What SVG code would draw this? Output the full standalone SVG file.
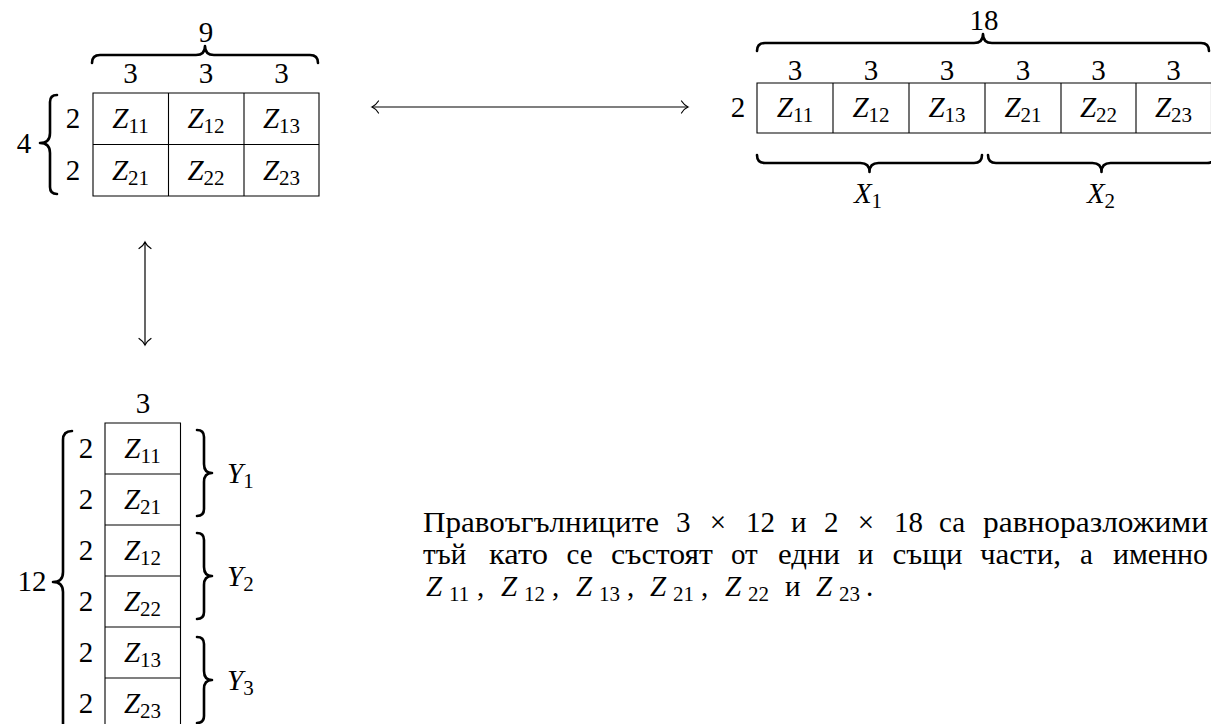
<svg xmlns="http://www.w3.org/2000/svg" width="1211" height="724" viewBox="0 0 1211 724">
<defs>
<marker id="tip" markerUnits="userSpaceOnUse" markerWidth="16" markerHeight="16" refX="12" refY="8" orient="auto-start-reverse" overflow="visible">
<path d="M5.5,2 C7.5,5 10,7.2 12,8 C10,8.8 7.5,11 5.5,14" fill="none" stroke="#000" stroke-width="1.2" stroke-linecap="round"/>
</marker>
</defs>
<style>
text { font-family: "Liberation Serif", "Times New Roman", serif; font-size: 29px; fill: #000; }
.m { text-anchor: middle; }
.i { font-style: italic; }
.s { font-size: 21px; }
.cell { fill: none; stroke: #000; stroke-width: 1.1; }
.brace { fill: none; stroke: #000; stroke-width: 2.6; stroke-linecap: round; stroke-linejoin: round; }
.arrow { fill: none; stroke: #000; stroke-width: 1.2; }
</style>
<rect width="1211" height="724" fill="#fff"/>

<g id="node-rect-4x9">
<path class="cell" d="M93,93 H319 V196 H93 Z M93,144.5 H319 M168.5,93 V196 M244,93 V196"/>
<path class="brace" d="M92,63 Q92,55 100,55 H196 Q205,55 205,46 Q205,55 214,55 H310 Q318,55 318,63"/>
<path class="brace" d="M57,95 Q50,95 50,102 V133 Q50,143 40,143 Q50,143 50,153 V187 Q50,194 57,194"/>
<text class="m" x="206" y="42">9</text>
<text class="m" x="130.5" y="83">3</text>
<text class="m" x="206" y="83">3</text>
<text class="m" x="281.5" y="83">3</text>
<text class="m" x="24" y="153">4</text>
<text class="m" x="73" y="128">2</text>
<text class="m" x="73" y="180">2</text>
<text class="m" x="130.5" y="128"><tspan class="i">Z</tspan><tspan class="s" dy="5">11</tspan></text>
<text class="m" x="206" y="128"><tspan class="i">Z</tspan><tspan class="s" dy="5">12</tspan></text>
<text class="m" x="281.5" y="128"><tspan class="i">Z</tspan><tspan class="s" dy="5">13</tspan></text>
<text class="m" x="130.5" y="180"><tspan class="i">Z</tspan><tspan class="s" dy="5">21</tspan></text>
<text class="m" x="206" y="180"><tspan class="i">Z</tspan><tspan class="s" dy="5">22</tspan></text>
<text class="m" x="281.5" y="180"><tspan class="i">Z</tspan><tspan class="s" dy="5">23</tspan></text>
</g>

<g id="node-rect-2x18">
<path class="cell" d="M757,83 H1211.5 V133 H757 Z M833,83 V133 M909,83 V133 M985,83 V133 M1061,83 V133 M1136,83 V133"/>
<path class="brace" d="M757,51 Q757,43 765,43 H974 Q983,43 983,34 Q983,43 992,43 H1201 Q1209,43 1209,51"/>
<path class="brace" d="M757,155 Q757,163 765,163 H860.5 Q869.5,163 869.5,172 Q869.5,163 878.5,163 H974 Q982,163 982,155"/>
<path class="brace" d="M988,155 Q988,163 996,163 H1092.5 Q1101.5,163 1101.5,172 Q1101.5,163 1110.5,163 H1207 Q1215,163 1215,155"/>
<text class="m" x="984" y="30">18</text>
<text class="m" x="795" y="80">3</text>
<text class="m" x="871" y="80">3</text>
<text class="m" x="947" y="80">3</text>
<text class="m" x="1023" y="80">3</text>
<text class="m" x="1098.5" y="80">3</text>
<text class="m" x="1173.5" y="80">3</text>
<text class="m" x="738" y="117">2</text>
<text class="m" x="795" y="117"><tspan class="i">Z</tspan><tspan class="s" dy="5">11</tspan></text>
<text class="m" x="871" y="117"><tspan class="i">Z</tspan><tspan class="s" dy="5">12</tspan></text>
<text class="m" x="947" y="117"><tspan class="i">Z</tspan><tspan class="s" dy="5">13</tspan></text>
<text class="m" x="1023" y="117"><tspan class="i">Z</tspan><tspan class="s" dy="5">21</tspan></text>
<text class="m" x="1098.5" y="117"><tspan class="i">Z</tspan><tspan class="s" dy="5">22</tspan></text>
<text class="m" x="1173.5" y="117"><tspan class="i">Z</tspan><tspan class="s" dy="5">23</tspan></text>
<text class="m" x="868" y="203"><tspan class="i">X</tspan><tspan class="s" dy="5">1</tspan></text>
<text class="m" x="1101" y="203"><tspan class="i">X</tspan><tspan class="s" dy="5">2</tspan></text>
</g>

<g id="node-rect-12x3">
<path class="cell" d="M105,423 H180.5 V729 H105 Z M105,474 H180.5 M105,525 H180.5 M105,576 H180.5 M105,627 H180.5 M105,678 H180.5"/>
<path class="brace" d="M72,431 Q63,431 63,440 V572 Q63,582 53,582 Q63,582 63,592 V724 Q63,733 72,733"/>
<path class="brace" d="M197,430 Q204,430 204,437 V464 Q204,473 212,473 Q204,473 204,482 V509 Q204,516 197,516"/>
<path class="brace" d="M197,533 Q204,533 204,540 V567 Q204,576 212,576 Q204,576 204,585 V612 Q204,619 197,619"/>
<path class="brace" d="M197,637 Q204,637 204,644 V671 Q204,680 212,680 Q204,680 204,689 V716 Q204,723 197,723"/>
<text class="m" x="143" y="413">3</text>
<text class="m" x="32" y="591">12</text>
<text class="m" x="86" y="458">2</text>
<text class="m" x="86" y="509">2</text>
<text class="m" x="86" y="560">2</text>
<text class="m" x="86" y="611">2</text>
<text class="m" x="86" y="662">2</text>
<text class="m" x="86" y="713">2</text>
<text class="m" x="142.5" y="458"><tspan class="i">Z</tspan><tspan class="s" dy="5">11</tspan></text>
<text class="m" x="142.5" y="509"><tspan class="i">Z</tspan><tspan class="s" dy="5">21</tspan></text>
<text class="m" x="142.5" y="560"><tspan class="i">Z</tspan><tspan class="s" dy="5">12</tspan></text>
<text class="m" x="142.5" y="611"><tspan class="i">Z</tspan><tspan class="s" dy="5">22</tspan></text>
<text class="m" x="142.5" y="662"><tspan class="i">Z</tspan><tspan class="s" dy="5">13</tspan></text>
<text class="m" x="142.5" y="713"><tspan class="i">Z</tspan><tspan class="s" dy="5">23</tspan></text>
<text x="227" y="483"><tspan class="i">Y</tspan><tspan class="s" dy="5">1</tspan></text>
<text x="227" y="586"><tspan class="i">Y</tspan><tspan class="s" dy="5">2</tspan></text>
<text x="227" y="690"><tspan class="i">Y</tspan><tspan class="s" dy="5">3</tspan></text>
</g>

<g id="connectors">
<line class="arrow" x1="372" y1="107" x2="688" y2="107" marker-start="url(#tip)" marker-end="url(#tip)"/>
<line class="arrow" x1="145" y1="242" x2="145" y2="345" marker-start="url(#tip)" marker-end="url(#tip)"/>
</g>

<g id="node-caption">
<text x="423" y="532" textLength="236" lengthAdjust="spacingAndGlyphs">Правоъгълниците</text>
<text x="676" y="532">3</text>
<text class="m" x="718" y="532">×</text>
<text x="746" y="532">12</text>
<text x="791" y="532">и</text>
<text x="824" y="532">2</text>
<text class="m" x="866" y="532">×</text>
<text x="894" y="532">18</text>
<text x="939" y="532">са</text>
<text x="983" y="532" textLength="225" lengthAdjust="spacingAndGlyphs">равноразложими</text>

<text x="423" y="564">тъй</text>
<text x="489" y="564" textLength="59" lengthAdjust="spacingAndGlyphs">като</text>
<text x="566.5" y="564">се</text>
<text x="611" y="564" textLength="102" lengthAdjust="spacingAndGlyphs">състоят</text>
<text x="731" y="564">от</text>
<text x="778" y="564" textLength="62" lengthAdjust="spacingAndGlyphs">едни</text>
<text x="858" y="564">и</text>
<text x="892.5" y="564" textLength="70" lengthAdjust="spacingAndGlyphs">същи</text>
<text x="980" y="564" textLength="81" lengthAdjust="spacingAndGlyphs">части,</text>
<text x="1080" y="564">а</text>
<text x="1113" y="564" textLength="95" lengthAdjust="spacingAndGlyphs">именно</text>

<text x="426" y="596"><tspan class="i">Z</tspan><tspan class="s" x="449" dy="5">11</tspan></text>
<text x="477" y="596">,</text>
<text x="501" y="596"><tspan class="i">Z</tspan><tspan class="s" x="524" dy="5">12</tspan></text>
<text x="552" y="596">,</text>
<text x="576" y="596"><tspan class="i">Z</tspan><tspan class="s" x="599" dy="5">13</tspan></text>
<text x="627" y="596">,</text>
<text x="650" y="596"><tspan class="i">Z</tspan><tspan class="s" x="673" dy="5">21</tspan></text>
<text x="701" y="596">,</text>
<text x="725" y="596"><tspan class="i">Z</tspan><tspan class="s" x="748" dy="5">22</tspan></text>
<text x="785" y="596">и</text>
<text x="816" y="596"><tspan class="i">Z</tspan><tspan class="s" x="839" dy="5">23</tspan></text>
<text x="866" y="596">.</text>
</g>
</svg>
